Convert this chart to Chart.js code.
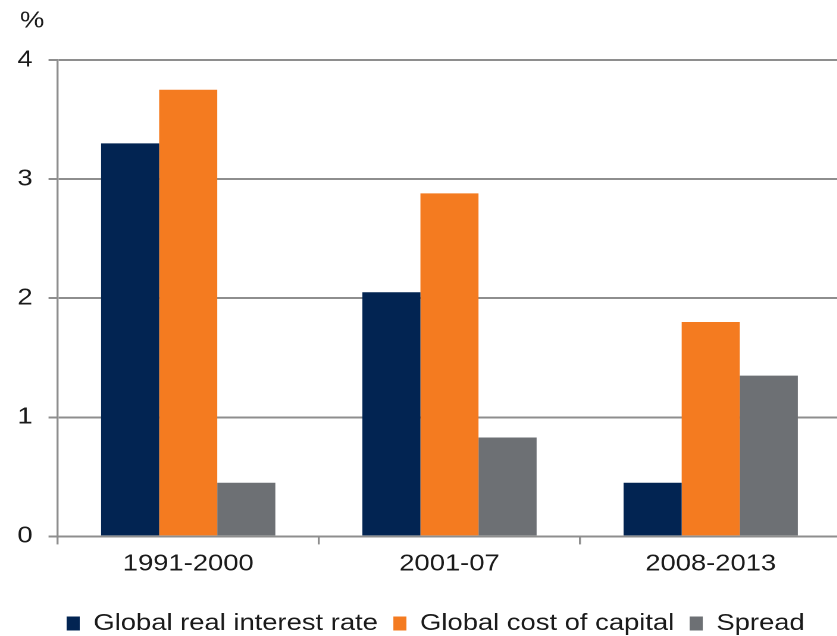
<!DOCTYPE html>
<html>
<head>
<meta charset="utf-8">
<script src="https://cdn.jsdelivr.net/npm/chart.js@4/dist/chart.umd.min.js"></script>
<style>
  html, body { margin: 0; padding: 0; background: #ffffff; overflow: hidden; width: 837px; height: 636px; }
  #wrap { width: 707px; height: 636px; transform: scaleX(1.19); transform-origin: 0 0; }
</style>
</head>
<body>
<div id="wrap"><canvas id="chart" width="707" height="636"></canvas></div>
<script>
// Periods on the horizontal axis
const periods = ['1991-2000', '2001-07', '2008-2013'];

// Averages per period, in per cent
const realInterestRate = [3.30, 2.05, 0.45];
const costOfCapital = [3.75, 2.88, 1.80];
const spread = [0.45, 0.83, 1.35];

// Value-axis ticks
const yTicks = [0, 1, 2, 3, 4];

const seriesNames = ['Global real interest rate', 'Global cost of capital', 'Spread'];
const seriesColors = ['#022452', '#F47B20', '#6D7074'];

const FONT = "'Liberation Sans', Arial, sans-serif";
const SIZE = 23;
const TEXT = '#1a1a1a';
const LINE = '#8e8e8e';

// Unit label above the value axis, and a small nudge of the legend row
const extras = {
  id: 'extras',
  afterLayout(chart) {
    const lg = chart.legend;
    if (lg) { lg.left += 12; lg.right += 12; }
  },
  afterDraw(chart) {
    const ctx = chart.ctx;
    ctx.save();
    ctx.font = SIZE + 'px ' + FONT;
    ctx.fillStyle = TEXT;
    ctx.textAlign = 'left';
    ctx.textBaseline = 'middle';
    ctx.fillText('%', 16.8, 21);
    ctx.restore();
  }
};

new Chart(document.getElementById('chart'), {
  type: 'bar',
  data: {
    labels: periods,
    datasets: [
      { label: seriesNames[0], data: realInterestRate, backgroundColor: seriesColors[0] },
      { label: seriesNames[1], data: costOfCapital, backgroundColor: seriesColors[1] },
      { label: seriesNames[2], data: spread, backgroundColor: seriesColors[2] }
    ]
  },
  options: {
    responsive: false,
    animation: false,
    devicePixelRatio: 2,
    layout: { padding: { top: 60, left: 1.2, right: 0, bottom: -9 } },
    datasets: { bar: { barPercentage: 1, categoryPercentage: 0.667 } },
    scales: {
      x: {
        offset: true,
        afterFit(scale) { scale.height += 15; },
        grid: { display: true, drawOnChartArea: false, drawTicks: true, tickLength: 8, color: LINE, lineWidth: 1.7, offset: true },
        border: { display: true, color: LINE, width: 2 },
        ticks: { color: TEXT, font: { family: FONT, size: SIZE }, padding: 6 }
      },
      y: {
        min: 0,
        max: 4,
        afterBuildTicks(scale) { scale.ticks = yTicks.map(v => ({ value: v })); },
        grid: { display: true, drawOnChartArea: true, drawTicks: true, tickLength: 7.6, color: LINE, lineWidth: 2 },
        border: { display: true, color: LINE, width: 1.7 },
        ticks: { color: TEXT, font: { family: FONT, size: SIZE }, padding: 13.4 }
      }
    },
    plugins: {
      tooltip: { enabled: false },
      legend: {
        position: 'bottom',
        labels: { color: TEXT, font: { family: FONT, size: SIZE }, boxWidth: 11, boxHeight: 14, padding: 13 }
      }
    }
  },
  plugins: [extras]
});
</script>
</body>
</html>
